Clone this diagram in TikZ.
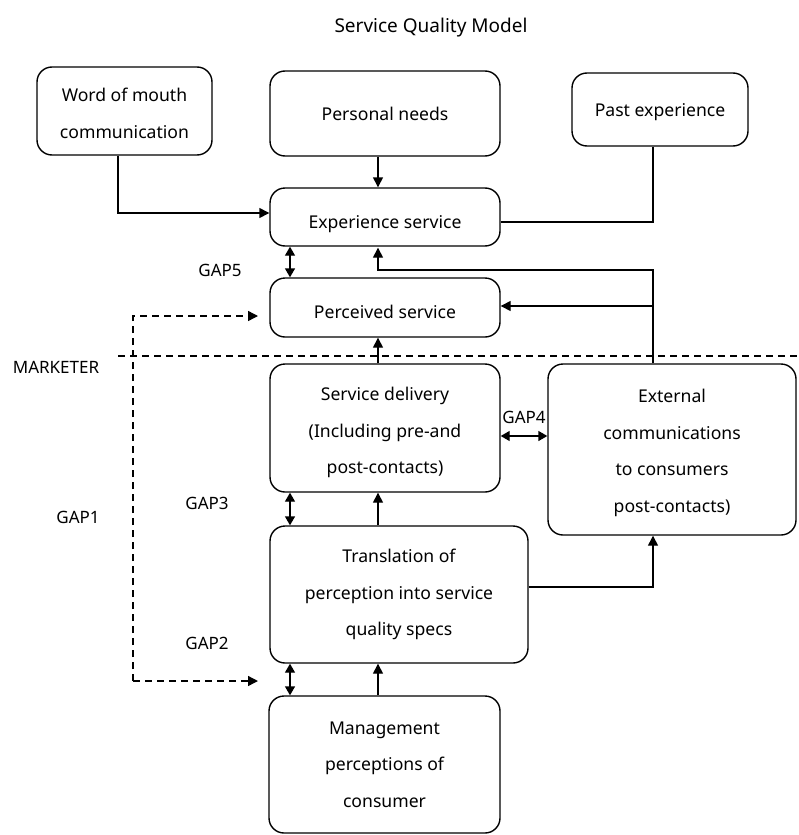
\documentclass[tikz,border=0pt]{standalone}
\usepackage{fontspec}
\setmainfont{Noto Sans}
\usetikzlibrary{arrows.meta}
\begin{document}
\begin{tikzpicture}[x=1pt,y=-1pt,
  box/.style={draw,line width=1.4pt,rounded corners=15pt,align=center,inner sep=0pt,
    font=\fontsize{17.6}{36.5}\selectfont},
  lbl/.style={font=\fontsize{17}{20}\selectfont,inner sep=0pt},
  arr/.style={line width=1.4pt,-{Triangle[length=10pt,width=10pt]}},
  darr/.style={line width=1.4pt,{Triangle[length=9pt,width=10pt]}-{Triangle[length=9pt,width=10pt]}},
  ln/.style={line width=1.4pt},
  dsh/.style={line width=1.4pt,dash pattern=on 7pt off 5pt}]
\useasboundingbox (0,0) rectangle (798,835);
% boxes
\node[box,minimum width=175pt,minimum height=88pt] (wom) at (124.5,111) {\rule{0pt}{18.5pt}Word of mouth\\communication};
\node[box,minimum width=230pt,minimum height=85pt] (pn) at (385,113.5) {Personal needs};
\node[box,minimum width=176pt,minimum height=73pt] (pe) at (660,109.5) {\rule[-4pt]{0pt}{22pt}Past experience};
\node[box,minimum width=230pt,minimum height=58pt] (es) at (385,217) {\rule[-4pt]{0pt}{32pt}Experience service};
\node[box,minimum width=230pt,minimum height=59pt] (ps) at (385,307.5) {\rule[-4pt]{0pt}{30pt}Perceived service};
\node[box,minimum width=230pt,minimum height=128pt] (sd) at (385,428) {\rule{0pt}{22.5pt}Service delivery\\(Including pre-and\\post-contacts)};
\node[box,minimum width=248pt,minimum height=171pt] (ec) at (672,449.5) {\rule{0pt}{20.5pt}External\\communications\\to consumers\\post-contacts)};
\node[box,minimum width=258pt,minimum height=137pt] (tr) at (399,594.5) {Translation of\\perception into service\\quality specs};
\node[box,minimum width=231pt,minimum height=137pt] (mg) at (384.5,764.5) {Management\\perceptions of\\consumer};
% labels
\node[lbl,font=\fontsize{19}{22}\selectfont] (title) at (431,27.5) {Service Quality Model};
\node[lbl] (marketer) at (56,367) {MARKETER};
\node[lbl] (gap5) at (220,270) {GAP5};
\node[lbl] (gap4) at (524,417) {GAP4};
\node[lbl] (gap3) at (207,503) {GAP3};
\node[lbl] (gap2) at (207,643) {GAP2};
\node[lbl] (gap1) at (78,517) {GAP1};
% coordinates
\coordinate (ax) at (378,0);
\coordinate (gx) at (290,0);
\coordinate (w1) at (118,213);
\coordinate (p1) at (653,222);
\coordinate (e1) at (653,270);
\coordinate (e2) at (653,306);
\coordinate (g4) at (0,436);
\coordinate (t1) at (653,587);
\coordinate (d1) at (133,316);
\coordinate (d2) at (133,681);
\coordinate (d1e) at (258,316);
\coordinate (d2e) at (258,681);
\coordinate (m1) at (118,356);
\coordinate (m2) at (798,356);
% connectors
\draw[arr] (ax|-pn.south) -- (ax|-es.north);
\draw[arr] (ax|-sd.north) -- (ax|-ps.south);
\draw[arr] (ax|-tr.north) -- (ax|-sd.south);
\draw[arr] (ax|-mg.north) -- (ax|-tr.south);
\draw[darr] (gx|-es.south) -- (gx|-ps.north);
\draw[darr] (gx|-sd.south) -- (gx|-tr.north);
\draw[darr] (gx|-tr.south) -- (gx|-mg.north);
\draw[arr] (w1|-wom.south) -- (w1) -- (w1-|es.west);
\draw[ln] (p1|-pe.south) -- (p1) -- (p1-|es.east);
\draw[arr] (e1|-ec.north) -- (e1) -- (e1-|ax) -- ([yshift=-1pt]ax|-es.south);
\draw[arr] (e2) -- (e2-|ps.east);
\draw[darr] (g4-|sd.east) -- (g4-|ec.west);
\draw[arr] (t1-|tr.east) -- (t1) -- (t1|-ec.south);
\draw[dsh] (m1) -- (m2);
\draw[dsh,-{Triangle[length=10pt,width=10pt]}] (d2) -- (d1) -- (d1e);
\draw[dsh,-{Triangle[length=10pt,width=10pt]}] (d2) -- (d2e);
\end{tikzpicture}
\end{document}
